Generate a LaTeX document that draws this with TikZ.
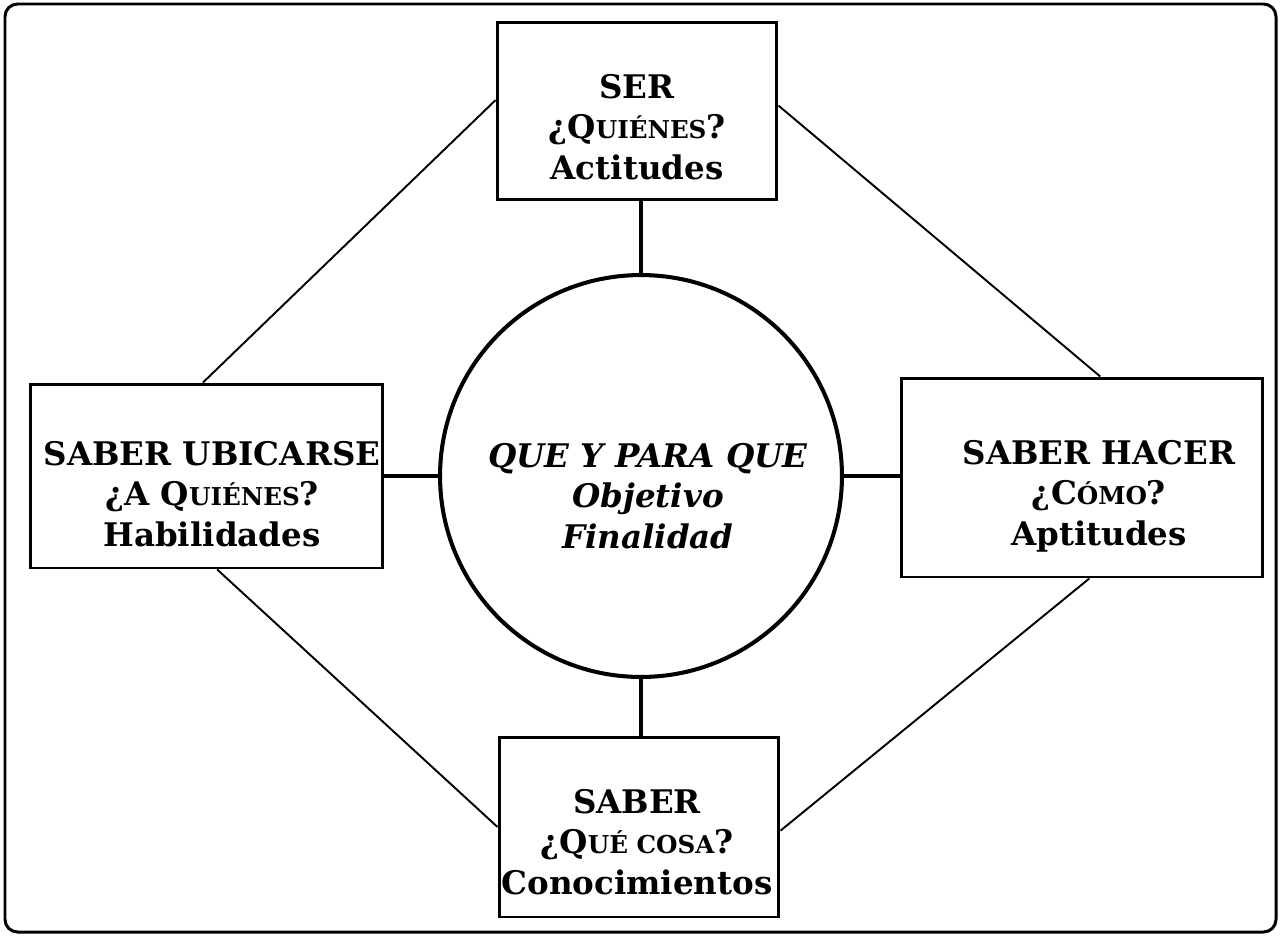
\documentclass[tikz,border=0pt]{standalone}
\usepackage{fontspec}
\setmainfont{DejaVu Serif}
\usetikzlibrary{calc}
\newcommand{\smc}[1]{{\fontsize{14}{23}\selectfont #1}}
\tikzset{
  box/.style={draw, line width=1.7pt, rectangle, inner sep=0pt},
  txt/.style={align=center, font=\fontsize{18.5}{23}\selectfont\bfseries, inner sep=0pt},
  ctxt/.style={align=center, font=\fontsize{18.5}{23}\selectfont\bfseries\itshape, inner sep=0pt},
  diag/.style={line width=1.1pt},
  stub/.style={line width=2.3pt},
}
\begin{document}
\begin{tikzpicture}[x=0.02cm, y=-0.02cm]
\useasboundingbox (0,0) rectangle (1280,937);
\draw[line width=1.7pt, rounded corners=0.25cm] (5,4) rectangle (1276,932);
% boxes
\node[box, minimum width=5.6cm, minimum height=3.56cm] (ser) at (637,111) {};
\node[box, minimum width=7.06cm, minimum height=3.68cm] (ub) at (206.5,476) {};
\node[box, minimum width=7.24cm, minimum height=3.98cm] (ha) at (1082,477.5) {};
\node[box, minimum width=5.6cm, minimum height=3.6cm] (sa) at (639,827) {};
\node[circle, draw, line width=2.3pt, minimum size=8.04cm, inner sep=0pt] (c) at (641,476) {};
% texts
\node[txt] (sert) at (637,127) {SER\\ ¿Q\smc{UIÉNES}?\\ Actitudes};
\node[txt] (ubt) at (212,494) {SABER UBICARSE\\ ¿A Q\smc{UIÉNES}?\\ Habilidades};
\node[txt] (hat) at (1099,496) {SABER HACER\\ ¿C\smc{ÓMO}?\\ Aptitudes};
\node[txt] (sat) at (637,842) {SABER\\ ¿Q\smc{UÉ COSA}?\\ Conocimientos};
\node[ctxt] (ct) at (648,496) {QUE Y PARA QUE\\ Objetivo\\ Finalidad};
% stubs
\draw[stub] (c.north) -- (c.north |- ser.south);
\draw[stub] (c.south) -- (c.south |- sa.north);
\draw[stub] (c.west) -- (c.west -| ub.east);
\draw[stub] (c.east) -- (c.east -| ha.west);
% diagonals
\draw[diag] ($(ser.north west)!0.44!(ser.south west)$) -- ($(ub.north west)!0.49!(ub.north east)$);
\draw[diag] ($(ser.north east)!0.47!(ser.south east)$) -- ($(ha.north west)!0.55!(ha.north east)$);
\draw[diag] ($(ub.south west)!0.53!(ub.south east)$) -- ($(sa.north west)!0.5!(sa.south west)$);
\draw[diag] ($(ha.south west)!0.52!(ha.south east)$) -- ($(sa.north east)!0.52!(sa.south east)$);
\end{tikzpicture}
\end{document}
